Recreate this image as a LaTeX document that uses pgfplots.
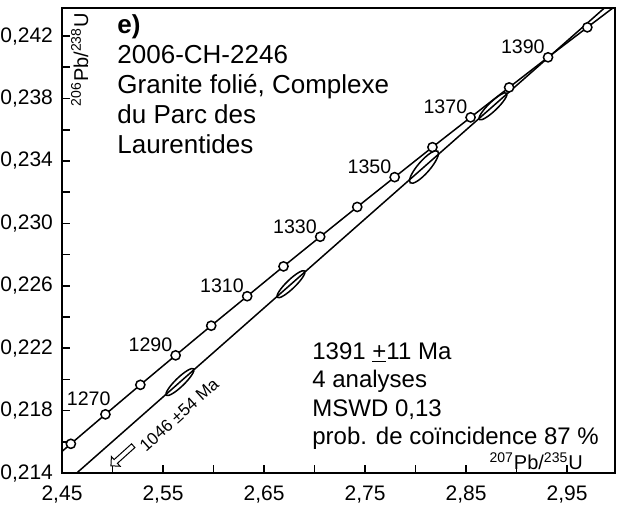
\documentclass[border=0pt]{standalone}
\usepackage{pgfplots}
\pgfplotsset{compat=1.18}
\usepackage{fontspec}
\setmainfont{Liberation Sans}
\usetikzlibrary{shapes.arrows,calc}
\pgfdeclareplotmark{ellA}{\pgfpathellipse{\pgfpointorigin}{\pgfpointpolar{44}{9.5pt}}{\pgfpointpolar{134}{2.2pt}}\pgfusepathqstroke}
\pgfdeclareplotmark{ellB}{\pgfpathellipse{\pgfpointorigin}{\pgfpointpolar{49}{10.5pt}}{\pgfpointpolar{139}{3pt}}\pgfusepathqstroke}
\begin{document}
\begin{tikzpicture}
\begin{axis}[name=ax, scale only axis, width=276.5pt, height=232.5pt,
  xmin=2.45, xmax=2.9975, ymin=0.214, ymax=0.2438,
  xtick={2.45,2.55,...,2.96}, ytick={0.214,0.218,...,0.243},
  minor xtick={2.5,2.6,2.7,2.8,2.9}, minor ytick={0.216,0.220,0.224,0.228,0.232,0.236,0.240},
  axis line style={line width=1.1pt},
  major tick length=4pt, minor tick length=4pt,
  every tick/.style={line width=0.8pt, black},
  xtick pos=bottom, ytick pos=left,
  x tick label style={yshift=-3pt},
  y tick label style={xshift=-1pt},
  /pgf/number format/.cd, use comma, fixed, precision=3, zerofill, assume math mode=true,
  /pgfplots/.cd,
  xticklabel style={/pgf/number format/precision=2},
  tick label style={font=\fontsize{10.5}{11}\selectfont},
  clip=true]
\addplot[line width=0.75pt, smooth] coordinates {
(2.42487,0.21398)(2.45876,0.21587)(2.49300,0.21776)(2.52756,0.21965)(2.56248,0.22154)(2.59774,0.22344)(2.63335,0.22533)(2.66930,0.22724)(2.70562,0.22914)(2.74229,0.23105)(2.77934,0.23296)(2.81674,0.23488)(2.85451,0.23679)(2.89266,0.23871)(2.93119,0.24064)(2.97010,0.24256)(3.00941,0.24449)};
\addplot[line width=0.75pt] coordinates {(2.4646,0.214)(3.0,0.24454)};
\addplot[only marks, mark=*, mark size=2.3pt, mark options={fill=white, draw=black, line width=0.75pt}] coordinates {
(2.42487,0.21398)(2.45876,0.21587)(2.49300,0.21776)(2.52756,0.21965)(2.56248,0.22154)(2.59774,0.22344)(2.63335,0.22533)(2.66930,0.22724)(2.70562,0.22914)(2.74229,0.23105)(2.77934,0.23296)(2.81674,0.23488)(2.85451,0.23679)(2.89266,0.23871)(2.93119,0.24064)(2.97010,0.24256)};
\addplot[only marks, mark=ellA, mark options={line width=0.75pt}] coordinates {(2.5668,0.21983)(2.6767,0.22610)(2.8767,0.23750)};
\addplot[only marks, mark=ellB, mark options={line width=0.75pt}] coordinates {(2.8084,0.23361)};
\tikzset{lab/.style={font=\fontsize{9.8}{11}\selectfont, anchor=south east, inner sep=1.5pt}}
\node[lab, anchor=south west, inner sep=0pt] at (axis cs:2.4545,0.2183) {1270};
\node[lab] at (axis cs:2.5625,0.22154) {1290};
\node[lab] at (axis cs:2.6333,0.22533) {1310};
\node[lab] at (axis cs:2.7056,0.22914) {1330};
\node[lab] at (axis cs:2.7793,0.23296) {1350};
\node[lab] at (axis cs:2.8545,0.23679) {1370};
\node[lab] at (axis cs:2.9312,0.24064) {1390};
\node[single arrow, draw, line width=0.5pt, minimum height=15pt, single arrow head extend=2pt, inner sep=1pt, minimum width=5.5pt, rotate=222, fill=white] at (axis cs:2.5104,0.21516) {};
\node[rotate=42, font=\fontsize{8.5}{10}\selectfont, inner sep=0pt] at (axis cs:2.5659,0.21772) {1046 ±54 Ma};
\node[anchor=north west, align=left, font=\fontsize{13}{15}\selectfont, inner sep=0pt] at (axis cs:2.5045,0.2434) {\textbf{e)}\\2006-CH-2246\\Granite folié, Complexe\\du Parc des\\Laurentides};
\node[anchor=north west, align=left, font=\fontsize{12}{14.3}\selectfont, inner sep=0pt] at (axis cs:2.6975,0.2224) {1391 \underline{+}11 Ma\\4 analyses\\MSWD 0,13\\prob. de coïncidence 87 \%};
\node[anchor=south east, font=\fontsize{10}{11}\selectfont, inner sep=0pt] at (axis cs:2.966,0.2142) {\textsuperscript{207}Pb/\textsuperscript{235}U};
\node[anchor=east, rotate=90, font=\fontsize{10}{11}\selectfont, inner sep=0pt] at (axis cs:2.4675,0.2435) {\textsuperscript{206}Pb/\textsuperscript{238}U};
\end{axis}
\pgfresetboundingbox
\path[use as bounding box] ($(ax.south west)+(-31pt,-18pt)$) rectangle ($(ax.north east)+(1.5pt,4pt)$);
\end{tikzpicture}
\end{document}
